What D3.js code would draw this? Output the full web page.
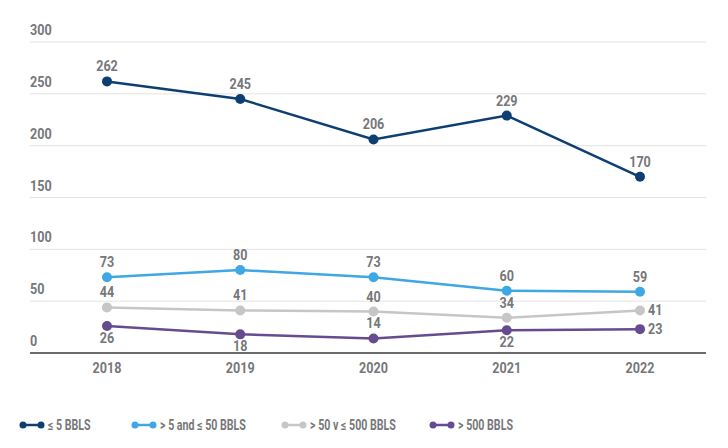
<!DOCTYPE html>
<html><head><meta charset="utf-8">
<script src="https://cdn.jsdelivr.net/npm/d3@7"></script>
<style>body{margin:0;background:#fff}svg{display:block}text{font-family:Roboto,"DejaVu Sans",sans-serif;font-weight:700;fill:#76777a}</style>
</head><body><svg id="c" width="728" height="448"></svg>
<script>
const years = ["2018","2019","2020","2021","2022"];
const seriesNames = ["≤ 5 BBLS","> 5 and ≤ 50 BBLS","> 50 v ≤ 500 BBLS","> 500 BBLS"];
const s1 = [262,245,206,229,170];
const s2 = [73,80,73,60,59];
const s3 = [44,41,40,34,41];
const s4 = [26,18,14,22,23];
const yTicks = [0,50,100,150,200,250,300];
const colors = ["#0e3f73","#3ea7e4","#c6c6c6","#664b91"];
// label placement per point: a=above, b=below, r=right
const placement = [
  ["a","a","a","a","a"],
  ["a","a","a","a","a"],
  ["a","a","a","a","r"],
  ["b","b","a","b","r"]
];
const svg = d3.select("#c");
const x = d3.scalePoint().domain(years).range([107,640]);
const y = d3.scaleLinear().domain([0,300]).range([353,42]);
const gx0 = 30, gx1 = 706;
const cond = "scale(0.9,1)";
svg.append("g").selectAll("line").data(yTicks.filter(d=>d>0)).join("line")
  .attr("x1",gx0).attr("x2",gx1).attr("y1",d=>y(d)).attr("y2",d=>y(d))
  .attr("stroke","#e3e3e3").attr("stroke-width",1);
svg.append("g").selectAll("text").data(yTicks).join("text")
  .attr("transform",d=>`translate(${gx0},${y(d)-7}) ${cond}`).attr("font-size",14).text(d=>d);
svg.append("line").attr("x1",gx0).attr("x2",gx1).attr("y1",y(0)).attr("y2",y(0))
  .attr("stroke","#6b6b6b").attr("stroke-width",2);
svg.append("g").selectAll("text").data(years).join("text")
  .attr("transform",d=>`translate(${x(d)},${y(0)+20}) ${cond}`).attr("text-anchor","middle").attr("font-size",14).text(d=>d);
const all = [s1,s2,s3,s4];
const line = d3.line().x((d,i)=>x(years[i])).y(d=>y(d));
all.slice().reverse().forEach((s,ri)=>{
  const k = all.length-1-ri;
  const g = svg.append("g");
  g.append("path").attr("d",line(s)).attr("fill","none").attr("stroke",colors[k]).attr("stroke-width",2.5);
  g.selectAll("circle").data(s).join("circle").attr("cx",(d,i)=>x(years[i])).attr("cy",d=>y(d)).attr("r",5).attr("fill",colors[k]);
});
all.forEach((s,k)=>{
  svg.append("g").selectAll("text").data(s).join("text")
    .attr("font-size",14)
    .attr("transform",(d,i)=>{
      const p=placement[k][i];
      const tx = p==="r"? x(years[i])+8 : x(years[i]);
      const ty = p==="a"? y(d)-10 : p==="b"? y(d)+17 : y(d)+5;
      return `translate(${tx},${ty}) ${cond}`;})
    .attr("text-anchor",(d,i)=>placement[k][i]==="r"?"start":"middle")
    .text(d=>d);
});
const legX = [23,135,285,433];
const lg = svg.append("g").selectAll("g").data(seriesNames).join("g").attr("transform",(d,i)=>`translate(${legX[i]},425)`);
lg.append("line").attr("x1",0).attr("x2",18).attr("stroke",(d,i)=>colors[i]).attr("stroke-width",2.5);
lg.append("circle").attr("cx",0).attr("r",3.5).attr("fill",(d,i)=>colors[i]);
lg.append("circle").attr("cx",18).attr("r",3.5).attr("fill",(d,i)=>colors[i]);
lg.append("text").attr("transform","translate(25,5) scale(0.76,1)").attr("font-size",14).text(d=>d);
</script></body></html>
